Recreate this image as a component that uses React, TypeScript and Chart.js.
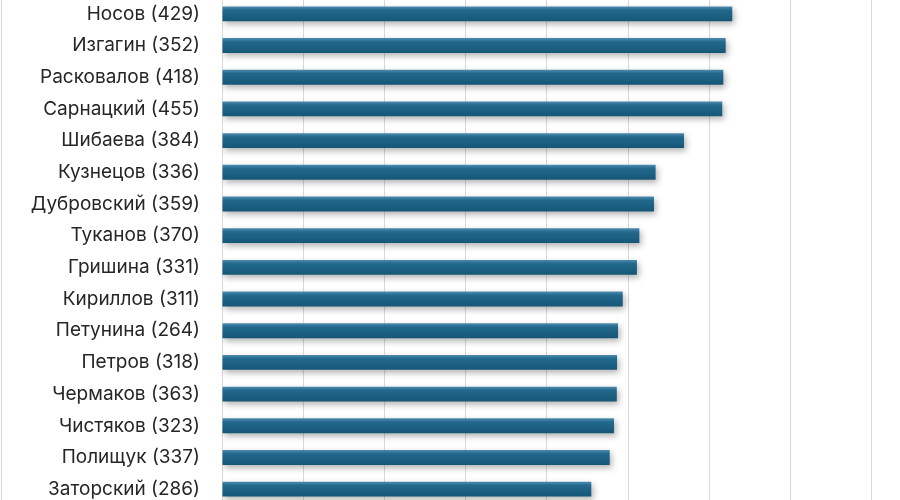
import { useEffect, useRef } from "react";
import { Chart, registerables } from "chart.js";

Chart.register(...registerables);

const names = [
  "Носов (429)",
  "Изгагин (352)",
  "Расковалов (418)",
  "Сарнацкий (455)",
  "Шибаева (384)",
  "Кузнецов (336)",
  "Дубровский (359)",
  "Туканов (370)",
  "Гришина (331)",
  "Кириллов (311)",
  "Петунина (264)",
  "Петров (318)",
  "Чермаков (363)",
  "Чистяков (323)",
  "Полищук (337)",
  "Заторский (286)",
];

const scores = [
  62.84, 62.03, 61.74, 61.61, 56.9, 53.4, 53.2, 51.4, 51.1, 49.35, 48.77, 48.65,
  48.62, 48.28, 47.75, 45.48,
];

const gridTicks = [0, 10, 20, 30, 40, 50, 60, 70, 80, 90, 100];

const barShadow = {
  id: "barShadow",
  beforeDatasetsDraw(chart: any) {
    const ctx = chart.ctx;
    ctx.save();
    ctx.shadowColor = "rgba(0,0,0,0.3)";
    ctx.shadowBlur = 6;
    ctx.shadowOffsetX = 2;
    ctx.shadowOffsetY = 3;
  },
  afterDatasetsDraw(chart: any) {
    chart.ctx.restore();
  },
};

export default function App() {
  const canvasRef = useRef<HTMLCanvasElement>(null);
  const chartRef = useRef<Chart | null>(null);

  useEffect(() => {
    if (!canvasRef.current) return;
    if (chartRef.current) chartRef.current.destroy();

    chartRef.current = new Chart(canvasRef.current, {
      type: "bar",
      data: {
        labels: names,
        datasets: [
          {
            data: scores,
            barPercentage: 0.47,
            categoryPercentage: 1,
            backgroundColor: (c: any) => {
              const { chart, dataIndex } = c;
              const y = chart.scales?.y;
              if (!y || dataIndex === undefined) return "#1d6386";
              const mid = y.getPixelForValue(dataIndex);
              if (!Number.isFinite(mid)) return "#1d6386";
              const g = chart.ctx.createLinearGradient(0, mid - 7.5, 0, mid + 7.5);
              g.addColorStop(0, "#4f8db0");
              g.addColorStop(0.25, "#22698d");
              g.addColorStop(1, "#165676");
              return g;
            },
          },
        ],
      },
      options: {
        indexAxis: "y",
        animation: false,
        responsive: false,
        devicePixelRatio: 1,
        layout: { padding: 0 },
        plugins: { legend: { display: false }, tooltip: { enabled: false } },
        scales: {
          x: {
            min: 0,
            max: 100,
            afterBuildTicks: (s: any) => {
              s.ticks = gridTicks.map((v) => ({ value: v }));
            },
            afterFit: (s: any) => {
              s.height = 0;
              s.paddingLeft = 0;
              s.paddingRight = 0;
            },
            ticks: { display: false },
            grid: { color: "#d9d9d9", drawTicks: false },
            border: { display: false },
          },
          y: {
            afterFit: (s: any) => {
              s.width = 222;
              s.paddingTop = 0;
              s.paddingBottom = 0;
            },
            ticks: {
              padding: 22,
              color: "#262626",
              font: { family: "Inter, sans-serif", size: 19 },
            },
            grid: { display: false, drawTicks: false },
            border: { display: true, color: "#d9d9d9" },
          },
        },
      },
      plugins: [barShadow],
    });

    return () => {
      if (chartRef.current) chartRef.current.destroy();
      chartRef.current = null;
    };
  }, []);

  return (
    <div
      style={{
        position: "fixed",
        left: 0,
        top: 0,
        width: 900,
        height: 500,
        overflow: "hidden",
        background: "#fff",
      }}
    >
      <div style={{ position: "absolute", left: 1, top: 0, width: 1, height: 500, background: "#d9d9d9" }} />
      <div style={{ position: "absolute", left: 0, top: -2 }}>
        <canvas ref={canvasRef} width={1034} height={507} />
      </div>
    </div>
  );
}
